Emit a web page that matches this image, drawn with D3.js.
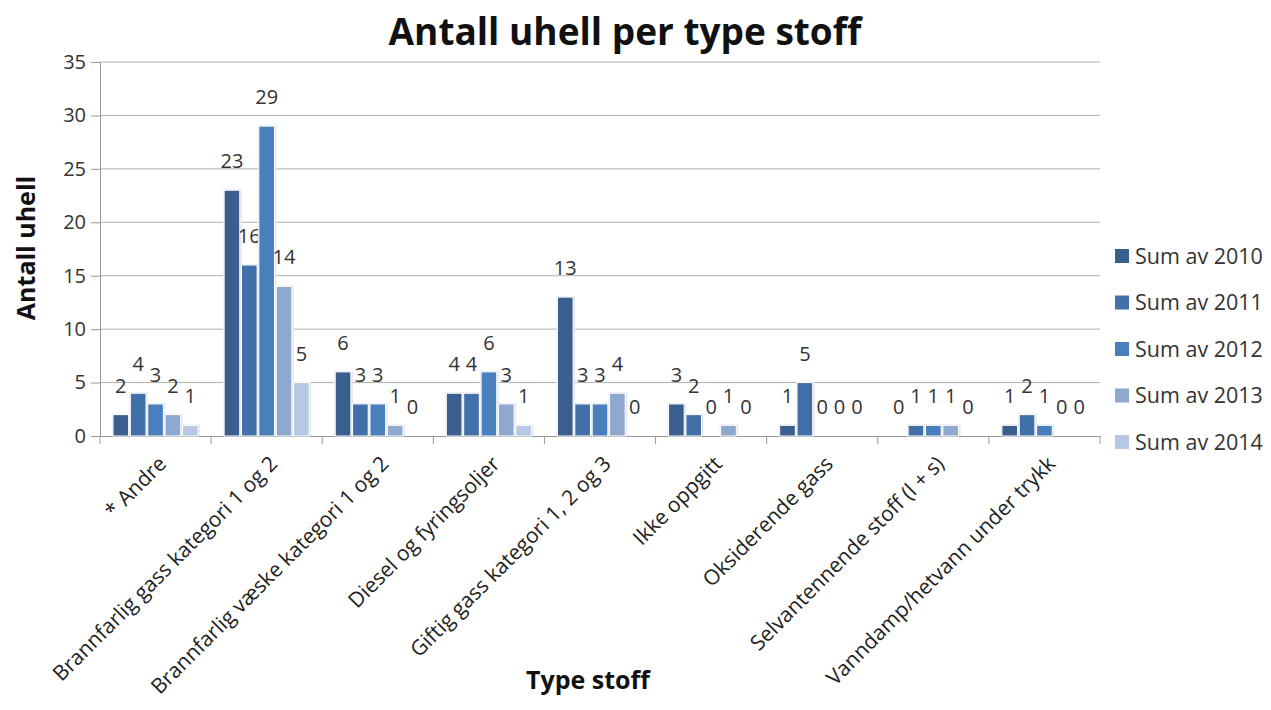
<!DOCTYPE html>
<html>
<head>
<meta charset="utf-8">
<script src="https://cdn.jsdelivr.net/npm/d3@7"></script>
<style>
  body { margin: 0; background: #fff; }
  svg { font-family: "Open Sans", "DejaVu Sans", sans-serif; }
</style>
</head>
<body>
<svg width="1271" height="710"></svg>
<script>
// data
var categories = ["* Andre", "Brannfarlig gass kategori 1 og 2", "Brannfarlig væske kategori 1 og 2",
  "Diesel og fyringsoljer", "Giftig gass kategori 1, 2 og 3", "Ikke oppgitt",
  "Oksiderende gass", "Selvantennende stoff (l + s)", "Vanndamp/hetvann under trykk"];
var seriesNames = ["Sum av 2010", "Sum av 2011", "Sum av 2012", "Sum av 2013", "Sum av 2014"];
var v2010 = [2, 23, 6, 4, 13, 3, 1, 0, 1];
var v2011 = [4, 16, 3, 4, 3, 2, 5, 1, 2];
var v2012 = [3, 29, 3, 6, 3, 0, 0, 1, 1];
var v2013 = [2, 14, 1, 3, 4, 1, 0, 1, 0];
var v2014 = [1, 5, 0, 1, 0, 0, 0, 0, 0];
var yTicks = [0, 5, 10, 15, 20, 25, 30, 35];
var colors = ["#3a5f8f", "#4170a9", "#4a7fbd", "#8fa8d0", "#b8c8e2"];

var allSeries = [v2010, v2011, v2012, v2013, v2014];

var svg = d3.select("svg"),
    plotLeft = 100, plotRight = 1100, plotTop = 62, plotBottom = 436;

var x = d3.scaleBand().domain(categories).range([plotLeft, plotRight]);
var xs = d3.scaleBand().domain(seriesNames).range([13, x.bandwidth() - 13]).paddingInner(0.1);
var y = d3.scaleLinear().domain([0, 35]).range([plotBottom, plotTop]);

// gridlines
svg.append("g")
  .selectAll("line")
  .data(yTicks.slice(1))
  .enter().append("line")
    .attr("x1", plotLeft).attr("x2", plotRight)
    .attr("y1", function(d) { return y(d); })
    .attr("y2", function(d) { return y(d); })
    .attr("stroke", "#b0b0b0");

// y axis
var yAxis = svg.append("g")
    .attr("transform", "translate(" + plotLeft + ",0)")
    .call(d3.axisLeft(y).tickValues(yTicks).tickSize(9).tickPadding(5));
yAxis.attr("font-family", null).attr("font-size", null);
yAxis.select(".domain").attr("stroke", "#999");
yAxis.selectAll(".tick line").attr("stroke", "#999");
yAxis.selectAll("text").attr("font-size", 20).attr("fill", "#333");

// x axis
var xAxis = svg.append("g")
    .attr("transform", "translate(0," + plotBottom + ")")
    .call(d3.axisBottom(x).tickSize(0).tickSizeOuter(0));
xAxis.attr("font-family", null).attr("font-size", null);
xAxis.select(".domain").attr("stroke", "#999");
xAxis.selectAll("text")
    .attr("font-size", 21)
    .attr("fill", "#222")
    .attr("text-anchor", "end")
    .attr("dy", 0)
    .attr("transform", "translate(10,27) rotate(-45)");
// boundary ticks between categories
svg.append("g")
  .selectAll("line")
  .data(d3.range(categories.length + 1))
  .enter().append("line")
    .attr("x1", function(i) { return plotLeft + i * x.step(); })
    .attr("x2", function(i) { return plotLeft + i * x.step(); })
    .attr("y1", plotBottom).attr("y2", plotBottom + 8)
    .attr("stroke", "#999");

// bars
var groups = svg.append("g").selectAll("g")
  .data(allSeries)
  .enter().append("g")
    .attr("fill", function(d, i) { return colors[i]; });

groups.each(function(vals, si) {
  var g = d3.select(this);
  var data = vals.map(function(v, ci) { return { cat: categories[ci], v: v }; });
  g.selectAll("rect.shadow")
    .data(data)
    .enter().append("rect")
      .attr("class", "shadow")
      .attr("x", function(d) { return x(d.cat) + xs(seriesNames[si]) - 1; })
      .attr("y", function(d) { return y(d.v) - 1; })
      .attr("width", xs.bandwidth() + 3)
      .attr("height", function(d) { return d.v > 0 ? plotBottom - y(d.v) + 1 : 0; })
      .attr("fill", "#e6e6e6");
  g.selectAll("rect.bar")
    .data(data)
    .enter().append("rect")
      .attr("class", "bar")
      .attr("x", function(d) { return x(d.cat) + xs(seriesNames[si]); })
      .attr("y", function(d) { return y(d.v); })
      .attr("width", xs.bandwidth())
      .attr("height", function(d) { return plotBottom - y(d.v); })
      .attr("stroke", "#fff")
      .attr("stroke-width", 1);
  g.selectAll("text")
    .data(data)
    .enter().append("text")
      .attr("x", function(d) { return x(d.cat) + xs(seriesNames[si]) + xs.bandwidth() / 2; })
      .attr("y", function(d) { return y(d.v) - 22; })
      .attr("text-anchor", "middle")
      .attr("font-size", 20)
      .attr("fill", "#333")
      .text(function(d) { return d.v; });
});

// title
svg.append("text")
    .attr("x", 625).attr("y", 45)
    .attr("text-anchor", "middle")
    .attr("font-size", 37)
    .attr("font-weight", "bold")
    .attr("fill", "#111")
    .text("Antall uhell per type stoff");

// axis titles
svg.append("text")
    .attr("transform", "translate(35,248) rotate(-90)")
    .attr("text-anchor", "middle")
    .attr("font-size", 25)
    .attr("font-weight", "bold")
    .attr("fill", "#111")
    .text("Antall uhell");

svg.append("text")
    .attr("x", 588).attr("y", 689)
    .attr("text-anchor", "middle")
    .attr("font-size", 25)
    .attr("font-weight", "bold")
    .attr("fill", "#111")
    .text("Type stoff");

// legend
var legend = svg.append("g").selectAll("g")
  .data(seriesNames)
  .enter().append("g")
    .attr("transform", function(d, i) { return "translate(1115," + (256 + i * 46.5) + ")"; });
legend.append("rect")
    .attr("x", 0).attr("y", -7)
    .attr("width", 14).attr("height", 14)
    .attr("fill", function(d, i) { return colors[i]; });
legend.append("text")
    .attr("x", 20).attr("y", 0)
    .attr("dy", "0.35em")
    .attr("font-size", 21.5)
    .attr("fill", "#333")
    .text(function(d) { return d; });
</script>
</body>
</html>
